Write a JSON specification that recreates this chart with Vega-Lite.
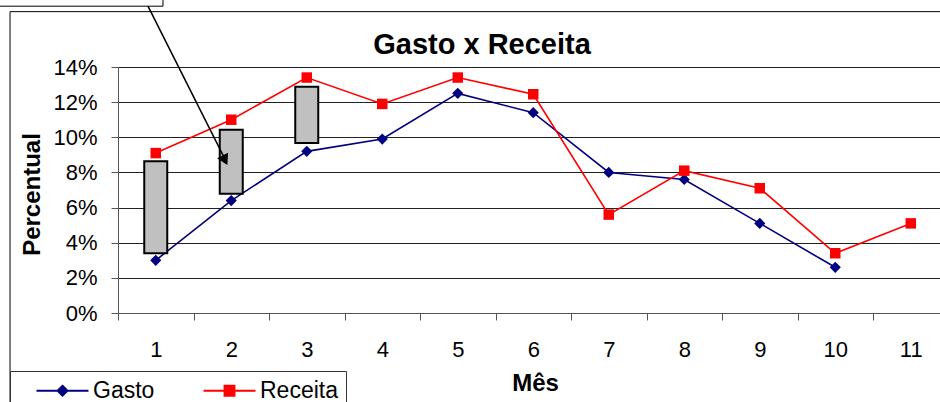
{
  "$schema": "https://vega.github.io/schema/vega-lite/v6.json",
  "width": 822,
  "height": 246,
  "autosize": {"type": "none"},
  "padding": {"left": 118, "top": 67, "right": 0, "bottom": 89},
  "background": "white",
  "config": {"font": "Liberation Sans", "view": {"stroke": null}},
  "title": {"text": "Gasto x Receita", "fontSize": 29, "fontWeight": "bold", "font": "Liberation Sans", "color": "#000", "anchor": "middle", "frame": "group", "dx": -47, "baseline": "alphabetic", "offset": -85},
  "datasets": {
    "series": [
      {"mes": 1, "serie": "Gasto", "valor": 3.0},
      {"mes": 2, "serie": "Gasto", "valor": 6.4},
      {"mes": 3, "serie": "Gasto", "valor": 9.2},
      {"mes": 4, "serie": "Gasto", "valor": 9.9},
      {"mes": 5, "serie": "Gasto", "valor": 12.5},
      {"mes": 6, "serie": "Gasto", "valor": 11.4},
      {"mes": 7, "serie": "Gasto", "valor": 8.0},
      {"mes": 8, "serie": "Gasto", "valor": 7.6},
      {"mes": 9, "serie": "Gasto", "valor": 5.1},
      {"mes": 10, "serie": "Gasto", "valor": 2.6},
      {"mes": 1, "serie": "Receita", "valor": 9.1},
      {"mes": 2, "serie": "Receita", "valor": 11.0},
      {"mes": 3, "serie": "Receita", "valor": 13.4},
      {"mes": 4, "serie": "Receita", "valor": 11.9},
      {"mes": 5, "serie": "Receita", "valor": 13.4},
      {"mes": 6, "serie": "Receita", "valor": 12.45},
      {"mes": 7, "serie": "Receita", "valor": 5.6},
      {"mes": 8, "serie": "Receita", "valor": 8.1},
      {"mes": 9, "serie": "Receita", "valor": 7.1},
      {"mes": 10, "serie": "Receita", "valor": 3.4},
      {"mes": 11, "serie": "Receita", "valor": 5.1}
    ],
    "barras": [
      {"mes": 1, "inicio": 3.4, "fim": 8.63},
      {"mes": 2, "inicio": 6.78, "fim": 10.43},
      {"mes": 3, "inicio": 9.67, "fim": 12.87}
    ],
    "moldura": [{"x": -0.93, "x2": 11.6, "y": 17.15, "y2": -6}],
    "caixa": [{"x": -1.2, "x2": 1.096, "y": 17.92, "y2": 17.46}],
    "seta": [
      {"ordem": 1, "x": 0.897, "y": 17.46},
      {"ordem": 2, "x": 1.9, "y": 8.9}
    ],
    "ponta": [{"x": 1.917, "y": 8.69}]
  },
  "layer": [
    {
      "data": {"name": "moldura"},
      "mark": {"type": "rect", "fillOpacity": 0, "stroke": "#000", "strokeWidth": 1},
      "encoding": {
        "x": {"field": "x", "type": "quantitative", "title": "Mês", "scale": {"domain": [0.5, 11.3874], "nice": false, "zero": false, "padding": 0}},
        "x2": {"field": "x2"},
        "y": {"field": "y", "type": "quantitative", "title": "Percentual", "scale": {"domain": [0, 14], "nice": false, "zero": false, "padding": 0}},
        "y2": {"field": "y2"}
      }
    },
    {
      "data": {"name": "series"},
      "transform": [{"filter": "datum.serie === 'Gasto'"}],
      "mark": {"type": "line", "strokeWidth": 1.6, "color": "#000080"},
      "encoding": {
        "x": {"field": "mes", "type": "quantitative", "title": "Mês",
          "scale": {"domain": [0.5, 11.3874], "nice": false, "zero": false, "padding": 0},
          "axis": {"values": [1, 2, 3, 4, 5, 6, 7, 8, 9, 10, 11], "tickCount": 12, "format": "d", "tickOffset": -37.75, "labelOffset": 37.75, "grid": false, "tickSize": 7, "tickColor": "#555", "domainColor": "#555", "labelFontSize": 22, "labelColor": "#000", "labelBaseline": "alphabetic", "labelPadding": 36, "labelFlush": false, "labelOverlap": false, "titleFontSize": 24, "titleFontWeight": "bold", "titleColor": "#000", "titleX": 417, "titleY": 77, "titleBaseline": "alphabetic"}},
        "y": {"field": "valor", "type": "quantitative", "title": "Percentual",
          "scale": {"domain": [0, 14], "nice": false, "zero": false, "padding": 0},
          "axis": {"values": [0, 2, 4, 6, 8, 10, 12, 14], "tickCount": 10, "labelExpr": "datum.value + '%'", "grid": true, "gridColor": "#222", "tickSize": 7, "tickColor": "#555", "domainColor": "#555", "labelFontSize": 22, "labelColor": "#000", "labelPadding": 14, "labelOverlap": false, "labelFlush": false, "titleFontSize": 24, "titleFontWeight": "bold", "titleColor": "#000", "titleX": -79, "titleY": 127, "titleBaseline": "alphabetic", "titleAlign": "center", "titleAngle": -90}}
      }
    },
    {
      "data": {"name": "series"},
      "transform": [{"filter": "datum.serie === 'Receita'"}],
      "mark": {"type": "line", "strokeWidth": 1.6, "color": "#ff0000"},
      "encoding": {
        "x": {"field": "mes", "type": "quantitative", "title": "Mês", "scale": {"domain": [0.5, 11.3874], "nice": false, "zero": false, "padding": 0}},
        "y": {"field": "valor", "type": "quantitative", "title": "Percentual", "scale": {"domain": [0, 14], "nice": false, "zero": false, "padding": 0}}
      }
    },
    {
      "data": {"name": "series"},
      "transform": [{"filter": "datum.serie === 'Gasto'"}],
      "mark": {"type": "point", "shape": "diamond", "filled": true, "size": 125, "opacity": 1, "color": "#000080"},
      "encoding": {
        "x": {"field": "mes", "type": "quantitative", "title": "Mês", "scale": {"domain": [0.5, 11.3874], "nice": false, "zero": false, "padding": 0}},
        "y": {"field": "valor", "type": "quantitative", "title": "Percentual", "scale": {"domain": [0, 14], "nice": false, "zero": false, "padding": 0}}
      }
    },
    {
      "data": {"name": "series"},
      "transform": [{"filter": "datum.serie === 'Receita'"}],
      "mark": {"type": "point", "shape": "square", "filled": true, "size": 110, "opacity": 1, "color": "#ff0000"},
      "encoding": {
        "x": {"field": "mes", "type": "quantitative", "title": "Mês", "scale": {"domain": [0.5, 11.3874], "nice": false, "zero": false, "padding": 0}},
        "y": {"field": "valor", "type": "quantitative", "title": "Percentual", "scale": {"domain": [0, 14], "nice": false, "zero": false, "padding": 0}}
      }
    },
    {
      "data": {"name": "barras"},
      "mark": {"type": "bar", "width": 23, "fill": "#c0c0c0", "stroke": "#000", "strokeWidth": 2},
      "encoding": {
        "x": {"field": "mes", "type": "quantitative", "title": "Mês", "scale": {"domain": [0.5, 11.3874], "nice": false, "zero": false, "padding": 0}},
        "y": {"field": "inicio", "type": "quantitative", "title": "Percentual", "scale": {"domain": [0, 14], "nice": false, "zero": false, "padding": 0}},
        "y2": {"field": "fim"}
      }
    },
    {
      "data": {"name": "caixa"},
      "mark": {"type": "rect", "fill": "white", "stroke": "#000", "strokeWidth": 1},
      "encoding": {
        "x": {"field": "x", "type": "quantitative", "title": "Mês", "scale": {"domain": [0.5, 11.3874], "nice": false, "zero": false, "padding": 0}},
        "x2": {"field": "x2"},
        "y": {"field": "y", "type": "quantitative", "title": "Percentual", "scale": {"domain": [0, 14], "nice": false, "zero": false, "padding": 0}},
        "y2": {"field": "y2"}
      }
    },
    {
      "data": {"name": "seta"},
      "mark": {"type": "line", "color": "#000", "strokeWidth": 1.5},
      "encoding": {
        "x": {"field": "x", "type": "quantitative", "title": "Mês", "scale": {"domain": [0.5, 11.3874], "nice": false, "zero": false, "padding": 0}},
        "y": {"field": "y", "type": "quantitative", "title": "Percentual", "scale": {"domain": [0, 14], "nice": false, "zero": false, "padding": 0}},
        "order": {"field": "ordem", "type": "quantitative"}
      }
    },
    {
      "data": {"name": "ponta"},
      "mark": {"type": "point", "shape": "triangle-up", "filled": true, "color": "#000", "size": 150, "angle": 153, "opacity": 1},
      "encoding": {
        "x": {"field": "x", "type": "quantitative", "title": "Mês", "scale": {"domain": [0.5, 11.3874], "nice": false, "zero": false, "padding": 0}},
        "y": {"field": "y", "type": "quantitative", "title": "Percentual", "scale": {"domain": [0, 14], "nice": false, "zero": false, "padding": 0}}
      }
    },
    {
      "data": {"name": "series"},
      "mark": {"type": "point", "filled": true, "opacity": 0},
      "encoding": {
        "x": {"field": "mes", "type": "quantitative", "title": "Mês", "scale": {"domain": [0.5, 11.3874], "nice": false, "zero": false, "padding": 0}},
        "y": {"field": "valor", "type": "quantitative", "title": "Percentual", "scale": {"domain": [0, 14], "nice": false, "zero": false, "padding": 0}},
        "color": {"field": "serie", "type": "nominal", "title": null, "scale": {"domain": ["Gasto", "Receita"], "range": ["#000080", "#ff0000"]},
          "legend": {"orient": "none", "legendX": -108, "legendY": 304, "direction": "horizontal", "title": null, "strokeColor": "#333", "fillColor": "white", "padding": 8, "labelFontSize": 23, "labelColor": "#000", "labelFont": "Liberation Sans", "symbolSize": 108, "symbolOffset": 33, "labelOffset": 19, "columnPadding": 30, "symbolStrokeWidth": 2, "symbolOpacity": 1,
            "encode": {"symbols": {"update": {"fill": {"scale": "color", "field": "value"}, "stroke": {"scale": "color", "field": "value"}, "opacity": {"value": 1}}}}}},
        "shape": {"field": "serie", "type": "nominal", "title": null, "scale": {"domain": ["Gasto", "Receita"], "range": ["M-5,0H5M0,-0.95L0.95,0L0,0.95L-0.95,0Z", "M-5,0H5M-0.95,-0.95H0.95V0.95H-0.95Z"]},
          "legend": {"orient": "none", "legendX": -108, "legendY": 304, "direction": "horizontal", "title": null, "strokeColor": "#333", "fillColor": "white", "padding": 8, "labelFontSize": 23, "labelColor": "#000", "labelFont": "Liberation Sans", "symbolSize": 108, "symbolOffset": 33, "labelOffset": 19, "columnPadding": 30, "symbolStrokeWidth": 2, "symbolOpacity": 1,
            "encode": {"symbols": {"update": {"fill": {"scale": "color", "field": "value"}, "stroke": {"scale": "color", "field": "value"}, "opacity": {"value": 1}}}}}}
      }
    }
  ]
}
